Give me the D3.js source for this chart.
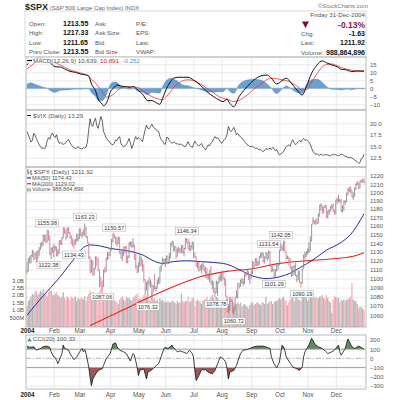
<!DOCTYPE html>
<html><head><meta charset="utf-8">
<script src="https://cdn.jsdelivr.net/npm/d3@7"></script>
<style>body{margin:0;background:#fff}svg{display:block}text{font-family:"Liberation Sans",Arial,Helvetica,sans-serif}</style>
</head><body><svg id="c" width="393" height="400"></svg>
<script>
// ---------------- DATA ----------------
const monthLabels=["2004","Feb","Mar","Apr","May","Jun","Jul","Aug","Sep","Oct","Nov","Dec"];
const monthStart=[0,20,39,62,83,103,124,145,167,188,209,230];
const prevClose2003=1112;
const spxClose=[
1108,1122,1124,1126,1132,1122,1127,1121,1131,1132,1140,1139,1148,1144,1142,1155,1144,1128,1134,1131,
1135,1136,1127,1129,1143,1140,1146,1158,1152,1146,1157,1152,1147,1144,1141,1139,1144,1145,1145,
1156,1149,1151,1155,1157,1147,1141,1124,1107,1121,1104,1111,1124,1122,1110,1095,1094,1091,1109,1108,1122,1127,1126,
1132,1142,1151,1148,1141,1139,1145,1129,1128,1129,1135,1136,1118,1124,1140,1141,1136,1138,1122,1114,1107,
1117,1120,1122,1114,1099,1087,1095,1097,1096,1096,1084,1091,1089,1089,1094,1095,1113,1115,1121,1121,
1121,1125,1117,1123,1140,1142,1131,1136,1125,1132,1134,1132,1135,1130,1134,1144,1141,1134,1133,1136,1141,
1129,1125,1116,1118,1109,1113,1114,1115,1111,1107,1101,1101,1109,1094,1097,1086,1084,1095,1095,1100,1102,
1107,1100,1099,1081,1064,1065,1079,1076,1063,1065,1079,1082,1095,1091,1098,1096,1096,1105,1105,1108,1099,1104,
1106,1118,1114,1121,1116,1118,1124,1126,1128,1120,1124,1129,1122,1129,1114,1108,1110,1104,1110,1115,1115,
1132,1135,1134,1142,1131,1122,1124,1122,1114,1103,1108,1114,1103,1104,1106,1096,1095,1111,1125,1127,1130,
1131,1131,1143,1162,1166,1165,1164,1163,1173,1184,1184,1175,1182,1184,1170,1177,1177,1182,1183,1179,1174,
1191,1190,1191,1190,1177,1183,1189,1188,1199,1203,1206,1203,1194,1195,1205,1210,1210,1205,1214,1213,1214,1211.92];
const spxHigh=[
1118,1123,1125,1127,1132,1131,1129,1131,1131,1136,1140,1142,1150,1150,1150,1155,1155,1149,1135,1136,
1139,1137,1136,1133,1143,1144,1147,1158,1158,1156,1158,1159,1153,1149,1146,1144,1145,1151,1151,
1157,1157,1153,1155,1163,1159,1148,1141,1125,1121,1120,1112,1125,1125,1123,1110,1102,1098,1110,1113,1124,1130,1130,
1135,1145,1151,1151,1148,1147,1148,1147,1133,1131,1136,1136,1137,1126,1141,1142,1142,1146,1138,1128,1115,
1118,1127,1125,1121,1116,1099,1096,1098,1102,1099,1095,1093,1105,1092,1099,1102,1113,1115,1124,1122,
1123,1126,1125,1129,1140,1142,1142,1137,1136,1134,1136,1134,1138,1138,1135,1146,1146,1145,1142,1138,1142,
1141,1129,1125,1120,1119,1115,1116,1120,1115,1113,1112,1106,1109,1114,1098,1097,1090,1098,1097,1103,1106,
1108,1107,1102,1099,1081,1070,1080,1079,1076,1069,1080,1087,1095,1095,1099,1101,1100,1105,1107,1110,1108,1104,
1109,1120,1118,1123,1123,1120,1125,1129,1130,1129,1125,1130,1129,1132,1131,1114,1114,1110,1111,1115,1116,
1132,1140,1138,1142,1143,1131,1126,1124,1123,1114,1114,1115,1118,1104,1109,1109,1096,1111,1127,1130,1131,
1134,1141,1148,1162,1170,1167,1168,1169,1175,1185,1187,1184,1183,1185,1184,1178,1180,1183,1186,1187,1179,
1191,1194,1197,1192,1192,1184,1190,1191,1199,1205,1206,1207,1203,1200,1206,1211,1214,1212,1214,1215,1217,1217];
const spxLow=[
1105,1108,1117,1117,1124,1121,1122,1118,1121,1125,1132,1135,1137,1142,1140,1141,1143,1126,1122,1129,
1124,1131,1125,1125,1128,1138,1138,1146,1151,1143,1146,1151,1145,1139,1136,1134,1138,1141,1142,
1145,1148,1146,1149,1148,1146,1140,1122,1106,1107,1103,1104,1111,1114,1108,1090,1091,1087,1091,1106,1108,1121,1122,
1126,1132,1141,1145,1139,1136,1139,1128,1122,1120,1125,1129,1118,1117,1123,1136,1134,1135,1121,1111,1106,
1107,1113,1114,1108,1096,1083,1087,1080,1092,1090,1076,1085,1088,1086,1089,1094,1095,1108,1115,1118,
1113,1119,1116,1117,1123,1136,1131,1131,1122,1125,1129,1128,1129,1128,1125,1133,1140,1133,1131,1131,1133,
1123,1123,1113,1111,1108,1109,1106,1110,1107,1101,1100,1099,1096,1094,1088,1084,1079,1084,1081,1095,1097,
1097,1099,1092,1080,1063,1063,1065,1074,1063,1061,1065,1079,1078,1089,1091,1094,1092,1094,1102,1104,1099,1094,
1100,1105,1112,1114,1114,1114,1115,1123,1123,1118,1117,1122,1120,1122,1113,1107,1108,1101,1102,1108,1110,
1115,1131,1131,1131,1130,1121,1122,1115,1111,1102,1103,1104,1103,1096,1098,1095,1090,1094,1111,1121,1124,
1127,1129,1131,1142,1162,1162,1161,1162,1163,1171,1178,1175,1175,1181,1170,1169,1173,1177,1180,1176,1173,
1174,1186,1188,1187,1177,1176,1178,1185,1188,1196,1200,1199,1194,1191,1195,1203,1209,1204,1205,1212,1212,1211];
const volumeB=[
1.2,1.6,1.7,1.9,2.1,2.0,2.2,2.3,2.0,2.1,2.3,2.2,2.4,2.0,2.1,1.9,2.2,2.4,2.3,2.0,
2.0,2.1,2.2,2.0,1.9,1.8,1.9,2.2,1.8,1.7,1.9,1.8,1.7,1.9,1.8,1.8,1.9,1.6,1.8,
1.7,1.8,1.8,1.7,1.9,1.6,1.9,2.1,2.3,1.9,2.2,2.0,1.8,1.9,2.1,2.2,2.4,2.6,2.0,1.7,1.6,1.8,1.9,
1.8,1.7,1.6,1.7,1.6,1.5,1.4,1.7,1.8,1.9,1.7,1.6,1.9,1.8,1.8,1.7,1.6,1.8,1.9,2.0,2.1,
1.7,1.8,1.7,1.8,2.0,2.1,1.9,1.8,1.7,1.6,2.2,1.7,1.8,1.6,1.7,1.5,1.8,1.6,1.7,1.5,
1.6,1.5,1.6,1.5,1.5,1.6,1.6,1.5,1.4,1.6,1.5,1.5,2.1,1.6,1.5,1.6,1.6,1.9,1.5,1.6,1.8,
1.8,1.2,1.6,1.7,1.6,1.5,1.4,1.6,1.7,1.7,1.9,1.6,1.7,1.9,2.0,1.8,1.7,1.9,1.8,1.6,1.5,
1.6,1.5,1.6,1.7,1.8,1.4,1.6,1.7,1.9,1.5,1.3,1.4,1.5,1.4,1.5,1.2,1.3,1.4,1.3,1.2,1.1,1.3,
1.5,1.5,1.3,1.4,1.5,1.5,1.4,1.3,1.5,1.5,1.4,1.9,1.4,1.5,1.6,1.6,1.4,1.5,1.6,1.6,1.7,
1.8,1.7,1.8,1.9,1.7,1.6,1.3,1.5,1.7,1.8,1.9,1.6,1.8,1.9,1.7,1.7,1.6,1.9,2.0,1.9,1.8,
1.6,1.7,2.2,2.1,2.0,1.8,1.9,1.8,1.8,1.9,1.9,2.0,1.8,1.7,2.0,1.8,1.6,1.5,0.8,1.7,1.9,
1.9,1.8,1.8,1.5,1.7,1.6,1.7,1.6,1.7,1.7,1.8,1.9,2.8,1.7,1.6,1.6,1.4,1.1,1.2,1.2,1.1,0.99];
const vixClose=[
18.2,17.5,16.7,15.9,16.3,17.8,17.4,16.7,16.0,15.4,14.9,14.5,14.7,14.4,14.8,16.2,16.9,16.5,17.4,17.9,
17.2,16.9,17.5,16.3,15.6,15.8,15.6,15.4,15.5,15.9,16.2,16.5,15.8,15.3,14.9,14.7,14.5,14.6,14.9,14.6,
14.5,14.4,14.7,14.6,14.8,15.9,18.7,21.0,19.6,19.3,20.5,21.1,19.5,18.9,20.2,21.5,20.6,18.2,17.6,16.7,
16.5,16.0,15.8,15.4,15.3,15.7,16.4,16.2,16.8,17.1,15.6,15.1,14.9,15.1,15.4,15.9,16.7,15.8,14.5,15.2,
16.3,17.1,16.5,16.9,16.7,16.4,16.0,17.3,18.6,19.6,18.9,18.8,19.3,19.8,19.2,18.9,18.7,18.3,18.2,17.1,
16.4,16.1,15.6,15.4,16.9,16.9,16.2,15.9,15.6,15.9,15.8,15.5,15.6,15.3,15.5,15.4,15.2,15.0,14.9,15.4,
16.0,15.3,15.0,14.7,15.4,16.1,15.6,15.3,15.1,15.3,15.6,14.9,14.6,14.2,14.8,15.3,15.1,15.7,16.0,16.6,
17.1,16.7,16.9,16.4,16.0,15.6,16.1,16.5,16.7,17.6,19.3,18.5,18.2,18.6,19.1,18.4,17.5,17.8,17.3,17.1,
16.8,16.4,16.0,15.7,15.3,15.2,14.9,15.0,14.9,14.8,14.5,14.6,14.4,14.2,14.3,14.0,13.8,14.1,14.5,14.3,
14.4,14.6,14.3,14.7,14.5,14.0,14.3,13.6,13.1,13.3,13.5,13.8,14.4,14.9,15.1,15.3,15.0,15.9,16.4,15.8,
15.3,15.6,16.0,16.3,15.9,16.4,16.7,16.3,16.4,16.2,15.9,15.4,14.6,13.8,13.6,13.2,13.4,13.1,13.0,13.3,
13.1,13.0,13.2,13.1,13.1,13.0,12.9,13.1,13.3,13.1,13.2,13.0,12.9,13.1,13.3,13.2,13.0,12.8,12.7,12.6,
12.5,12.6,12.4,12.2,12.0,11.8,11.6,11.3,11.4,12.3,12.5,13.29];
const macdIdx=[0,3,6,9,12,15,17,21,25,28,32,36,40,43,46,48,51,53,56,57,60,62,65,67,70,73,77,79,83,86,90,93,97,99,101,104,107,109,113,116,120,124,129,134,139,143,146,149,151,154,158,164,169,174,179,182,186,190,193,197,201,205,208,212,216,220,223,227,231,234,238,242,246,251];
const macdLine=[14.6,17.5,18.5,18.8,18.5,18.0,16.3,13.5,13.3,12.1,10.6,10.0,8.9,8.5,7.5,2.7,-1.5,-6.7,-9.8,-10.9,-7.7,-2.5,0.6,2.1,1.4,1.0,0.6,1.0,-1.5,-3.6,-7.7,-7.7,-9.4,-10.0,-6.3,0.0,4.2,6.3,6.9,6.9,6.9,5.2,2.1,-2.1,-5.2,-7.3,-8.3,-6.9,-9.4,-11.5,-5.2,1.0,5.2,7.7,8.3,6.3,2.7,4.8,6.3,3.1,-1.0,-4.2,1.0,9.4,14.6,17.1,16.0,14.6,13.5,11.9,11.5,10.4,10.8,10.639];
const macdSignal=[12.1,14.0,16.0,17.2,17.8,18.0,17.5,16.0,14.5,13.2,11.5,10.5,9.5,8.8,7.8,5.5,3.5,1.0,-2.0,-3.8,-5.6,-5.0,-3.3,-1.5,0.2,0.9,1.2,1.0,0.4,-1.2,-3.6,-5.2,-6.5,-7.0,-7.2,-5.0,-2.0,0.5,3.0,4.8,5.3,4.8,2.8,0.0,-2.8,-5.2,-6.2,-6.8,-7.5,-8.3,-7.5,-4.2,-0.5,2.5,5.6,6.2,6.0,5.3,4.8,3.5,1.5,-1.0,-1.0,4.0,9.0,13.5,14.8,15.2,14.2,13.0,12.0,11.3,11.0,10.891];
const ma50Idx=[0,12,23,34,42,47,54,62,72,79,87,94,101,109,119,129,139,149,158,168,178,188,196,203,213,223,233,241,251];
const ma50=[1060,1081,1099,1120,1135,1138,1137,1134,1132,1130,1126,1120,1117,1119,1120,1119,1118,1116,1110,1103,1100,1102,1106,1112,1121,1132,1140,1150,1174.43];
const ma200Idx=[47,60,75,89,109,129,149,168,188,208,226,243,251];
const ma200=[1049,1058,1068,1078,1091,1102,1108,1111,1117,1120,1122,1125,1129.02];
const cciIdx=[0,2,5,7,10,12,15,17,18,20,21,22,23,25,26,27,28,31,32,35,37,40,41,42,43,44,46,47,48,49,52,54,56,57,59,62,64,66,67,69,72,74,76,77,78,79,80,82,83,84,87,89,90,93,95,98,99,102,103,105,108,109,112,114,116,119,121,123,124,125,126,128,130,133,135,138,140,143,144,146,148,149,150,151,154,156,159,161,164,169,172,176,179,181,182,184,186,188,190,191,192,193,196,198,201,203,205,206,207,210,212,215,217,220,222,224,227,229,232,233,234,237,239,242,244,247,249,251];
const cciVal=[133,119,126,89,107,126,133,119,70,15,7,-22,-59,15,52,144,107,89,52,-15,15,89,107,70,96,52,-96,-207,-300,-226,-152,-126,-115,-78,-4,52,156,170,126,89,70,52,-4,-30,15,52,33,-96,-189,-133,-115,-226,-152,-126,-96,-59,-22,107,119,107,144,119,70,81,70,52,89,52,15,-133,-244,-189,-126,-126,-152,-170,-133,-22,15,-4,-41,-115,-226,-152,-133,-78,52,89,96,126,133,133,119,107,15,-59,-104,-41,144,126,89,15,-52,-96,-115,-133,-96,15,70,144,218,144,126,107,81,52,70,89,144,70,33,107,211,126,107,133,119,100.33];
const annIdx=[15,16,35,43,56,65,90,119,141,154,180,184,189,205];
const annVal=[1155.38,1122.38,1134.43,1163.23,1087.06,1150.57,1076.32,1146.34,1078.78,1060.72,1131.54,1101.29,1142.05,1090.19];
const annIsHigh=[1,0,0,1,0,1,0,1,0,0,1,0,1,0];
const macdTicks=[-10,-5,0,5,10,15];
const vixTicks=[12.5,15,17.5,20];
const priceTicks=[1060,1070,1080,1090,1100,1110,1120,1130,1140,1150,1160,1170,1180,1190,1200,1210,1220];
const volTicks=[0.5,1.0,1.5,2.0,2.5,3.0];
const volTickLabels=["500M","1.0B","1.5B","2.0B","2.5B","3.0B"];
const cciTicks=[-300,-200,-100,0,100,200];

// ---------------- DRAW ----------------
const svg=d3.select("#c");
const L=26,R=366;
const P={macd:[57,110],vix:[110,167],px:[167,327],cci:[335,389]};
const x=d3.scaleLinear().domain([0,251]).range([27,364]);
const yM=d3.scaleLinear().domain([-10,15]).range([104.3,64.3]);
const yV=d3.scaleLinear().domain([12.5,20]).range([157.7,123.3]);
const yP=d3.scaleLog().domain([1060,1220]).range([315.3,176]);
const yVol=d3.scaleLinear().domain([0,3]).range([324.7,280.3]);
const yC=d3.scaleLinear().domain([-300,200]).range([385.7,340]);
const defs=svg.append("defs");
function clip(id,t,b){defs.append("clipPath").attr("id",id).append("rect").attr("x",L).attr("y",t).attr("width",R-L).attr("height",b-t);}
Object.keys(P).forEach(k=>clip("cl_"+k,P[k][0],P[k][1]));
clip("cl_cciUp",P.cci[0],yC(100));
clip("cl_cciDn",yC(-100),P.cci[1]);

function grid(key,y,ticks){
  const [t,b]=P[key];
  const g=svg.append("g").attr("class","grid");
  g.append("g").attr("transform",`translate(0,${b})`)
   .call(d3.axisBottom(x).tickValues(monthStart.slice(1)).tickSize(-(b-t)).tickFormat(""));
  g.append("g").attr("transform",`translate(${L},0)`)
   .call(d3.axisLeft(y).tickValues(ticks).tickSize(-(R-L)).tickFormat(""));
  g.selectAll(".domain").remove();
  g.selectAll("line").attr("stroke","#e4e4e4").attr("stroke-width",0.8);
}
function rightAxis(y,ticks,fmt){
  const g=svg.append("g").attr("transform",`translate(${R},0)`)
   .call(d3.axisRight(y).tickValues(ticks).tickSize(0).tickPadding(4).tickFormat(fmt));
  g.select(".domain").remove();
  g.selectAll("text").attr("font-size",6).attr("fill","#555").attr("font-family",'"Liberation Sans",Arial,sans-serif');
}
function frame(key){const [t,b]=P[key];svg.append("rect").attr("x",L).attr("y",t).attr("width",R-L).attr("height",b-t).attr("fill","none").attr("stroke","#a8a8a8").attr("stroke-width",0.8);}

// ---- Header ----
const hdr=svg.append("g");
hdr.append("text").attr("x",25).attr("y",9.5).attr("font-size",9).attr("font-weight","bold").attr("fill","#222").text("$SPX")
  .append("tspan").attr("font-size",6).attr("font-weight","normal").attr("fill","#666").text(" (S&P 500 Large Cap Index) INDX");
hdr.append("text").attr("x",368).attr("y",8).attr("text-anchor","end").attr("font-size",6).attr("fill","#777").text("©StockCharts.com");
hdr.append("rect").attr("x",L-1).attr("y",11).attr("width",R-L+1).attr("height",46).attr("fill","none").attr("stroke","#cfcfcf").attr("stroke-width",0.8);
const rowsY=[26,35.3,44.5,54];
const col1=["Open:","High:","Low:","Prev Close:"], val1=["1213.55","1217.33","1211.65","1213.55"];
const col2=["Ask:","Ask Size:","Bid:","Bid Size:"], col3=["P/E:","EPS:","Last:","VWAP:"];
rowsY.forEach((yy,i)=>{
  hdr.append("text").attr("x",29).attr("y",yy).attr("font-size",6.2).attr("fill","#555").text(col1[i]);
  hdr.append("text").attr("x",63).attr("y",yy).attr("font-size",7).attr("font-weight","bold").attr("fill","#111").text(val1[i]);
  hdr.append("text").attr("x",95).attr("y",yy).attr("font-size",6.2).attr("fill","#555").text(col2[i]);
  hdr.append("text").attr("x",136).attr("y",yy).attr("font-size",6.2).attr("fill","#555").text(col3[i]);
});
hdr.append("text").attr("x",365).attr("y",17).attr("text-anchor","end").attr("font-size",6.2).attr("fill","#555").text("Friday  31-Dec-2004");
hdr.append("path").attr("d","M302,21.5 L309,21.5 L305.5,28 Z").attr("fill","#7a1030");
hdr.append("text").attr("x",365).attr("y",27.5).attr("text-anchor","end").attr("font-size",8.5).attr("font-weight","bold").attr("fill","#8b1a40").text("-0.13%");
const rl=["Chg:","Last:","Volume:"], rv=["-1.63","1211.92","988,864,896"], ry=[36,45,54.5];
rl.forEach((t,i)=>{
  hdr.append("text").attr("x",301).attr("y",ry[i]).attr("font-size",6.2).attr("fill","#555").text(t);
  hdr.append("text").attr("x",365).attr("y",ry[i]).attr("text-anchor","end").attr("font-size",7).attr("font-weight","bold").attr("fill","#111").text(rv[i]);
});

// ---- MACD panel ----
grid("macd",yM,macdTicks);
const macdPts=macdIdx.map((d,i)=>[d,macdLine[i],macdSignal[i]]);
const gM=svg.append("g").attr("clip-path","url(#cl_macd)");
gM.append("path").datum(macdPts).attr("fill","#6aa0d2").attr("stroke","#4a84bb").attr("stroke-width",0.4)
  .attr("d",d3.area().x(d=>x(d[0])).y0(yM(0)).y1(d=>yM(d[1]-d[2])).curve(d3.curveMonotoneX));
gM.append("line").attr("x1",L).attr("x2",R).attr("y1",yM(0)).attr("y2",yM(0)).attr("stroke","#8fb4d8").attr("stroke-width",0.6);
gM.append("path").datum(macdPts).attr("fill","none").attr("stroke","#e33").attr("stroke-width",0.8)
  .attr("d",d3.line().x(d=>x(d[0])).y(d=>yM(d[2])).curve(d3.curveMonotoneX));
gM.append("path").datum(macdPts).attr("fill","none").attr("stroke","#111").attr("stroke-width",1)
  .attr("d",d3.line().x(d=>x(d[0])).y(d=>yM(d[1])).curve(d3.curveMonotoneX));
rightAxis(yM,macdTicks,d3.format("d"));
frame("macd");
svg.append("rect").attr("x",27).attr("y",57.6).attr("width",126).attr("height",5.6).attr("fill","#fff").attr("opacity",0.85);
svg.append("line").attr("x1",27).attr("x2",32).attr("y1",60.5).attr("y2",60.5).attr("stroke","#111").attr("stroke-width",1.2);
const mt=svg.append("text").attr("x",33).attr("y",62.5).attr("font-size",6.2).attr("fill","#555");
mt.append("tspan").text("MACD(12,26,9) 10.639, ");
mt.append("tspan").attr("fill","#d22").text("10.891, ");
mt.append("tspan").attr("fill","#4a9ad0").text("-0.252");

// ---- VIX panel ----
grid("vix",yV,vixTicks);
svg.append("g").attr("clip-path","url(#cl_vix)").append("path").datum(vixClose).attr("fill","none").attr("stroke","#222").attr("stroke-width",0.7)
  .attr("d",d3.line().x((d,i)=>x(i)).y(d=>yV(d)));
rightAxis(yV,vixTicks,d3.format(".1f"));
frame("vix");
svg.append("line").attr("x1",27).attr("x2",31).attr("y1",115.5).attr("y2",115.5).attr("stroke","#222").attr("stroke-width",1);
svg.append("text").attr("x",33).attr("y",117.5).attr("font-size",6.2).attr("fill","#555").text("$VIX (Daily) 13.29");

// ---- Price panel ----
grid("px",yP,priceTicks);
const gP=svg.append("g").attr("clip-path","url(#cl_px)");
const bw=(x(1)-x(0));
gP.selectAll("rect.vol").data(volumeB).enter().append("rect")
  .attr("x",(d,i)=>x(i)-bw/2).attr("width",bw).attr("y",d=>yVol(d)).attr("height",d=>yVol(0)-yVol(d)+3)
  .attr("fill",(d,i)=>spxClose[i]<(i?spxClose[i-1]:prevClose2003)?"#f5b0bc":"#b8b8b8");
gP.append("path").datum(ma200Idx.map((d,i)=>[d,ma200[i]])).attr("fill","none").attr("stroke","#e22").attr("stroke-width",1.1)
  .attr("d",d3.line().x(d=>x(d[0])).y(d=>yP(d[1])).curve(d3.curveMonotoneX));
gP.append("path").datum(ma50Idx.map((d,i)=>[d,ma50[i]])).attr("fill","none").attr("stroke","#2b2b9c").attr("stroke-width",1)
  .attr("d",d3.line().x(d=>x(d[0])).y(d=>yP(d[1])).curve(d3.curveMonotoneX));
const bars=gP.selectAll("g.bar").data(spxClose).enter().append("g")
  .attr("stroke",(d,i)=>d<(i?spxClose[i-1]:prevClose2003)?"#d67590":"#858585").attr("stroke-width",0.85);
bars.append("line").attr("x1",(d,i)=>x(i)).attr("x2",(d,i)=>x(i)).attr("y1",(d,i)=>yP(spxHigh[i])).attr("y2",(d,i)=>yP(spxLow[i]));
bars.append("line").attr("x1",(d,i)=>x(i)).attr("x2",(d,i)=>x(i)+1).attr("y1",d=>yP(d)).attr("y2",d=>yP(d));
// annotations
const ann=gP.selectAll("g.ann").data(annVal).enter().append("g")
  .attr("transform",(d,i)=>`translate(${x(annIdx[i])},${yP(d)+(annIsHigh[i]?-6.5:6.5)})`);
ann.append("rect").attr("x",-11.5).attr("y",-3.6).attr("width",23).attr("height",7.2).attr("fill","#fff").attr("stroke","#aaa").attr("stroke-width",0.5);
ann.append("text").attr("text-anchor","middle").attr("y",2).attr("font-size",5.6).attr("fill","#333").text(d=>d3.format(".2f")(d));
rightAxis(yP,priceTicks,d3.format("d"));
const va=svg.append("g").attr("transform",`translate(${L},0)`)
  .call(d3.axisLeft(yVol).tickValues(volTicks).tickSize(0).tickPadding(2).tickFormat((d,i)=>volTickLabels[i]));
va.select(".domain").remove();
va.selectAll("text").attr("font-size",5.8).attr("fill","#555");
frame("px");
// legend
const lg=svg.append("g");
lg.append("path").attr("d","M28,169.5 V174.5 M27,171 H28 M28,173 H29.5 M31,170 V175 M30,171.5 H31 M31,174 H32.5").attr("stroke","#444").attr("stroke-width",0.7).attr("fill","none");
lg.append("text").attr("x",34).attr("y",174).attr("font-size",6.2).attr("fill","#555").text("$SPX (Daily) 1211.92");
lg.append("line").attr("x1",27).attr("x2",31).attr("y1",178).attr("y2",178).attr("stroke","#2b2b9c").attr("stroke-width",1.2);
lg.append("text").attr("x",32).attr("y",180).attr("font-size",5.6).attr("fill","#555").text("MA(50) 1174.43");
lg.append("line").attr("x1",27).attr("x2",31).attr("y1",183.7).attr("y2",183.7).attr("stroke","#e22").attr("stroke-width",1.2);
lg.append("text").attr("x",32).attr("y",185.7).attr("font-size",5.6).attr("fill","#555").text("MA(200) 1129.02");
lg.append("path").attr("d","M27.5,191.5 V188.5 M29,191.5 V187.5 M30.5,191.5 V189").attr("stroke","#888").attr("stroke-width",0.9);
lg.append("text").attr("x",32).attr("y",191.3).attr("font-size",5.6).attr("fill","#555").text("Volume 988,864,896");

// x axis labels
function xAxis(yy){
  const g=svg.append("g").attr("transform",`translate(0,${yy})`)
   .call(d3.axisBottom(x).tickValues(monthStart).tickSize(0).tickPadding(1).tickFormat((d,i)=>monthLabels[i]));
  g.select(".domain").remove();
  g.selectAll("text").attr("font-size",6.3).attr("font-weight",(d,i)=>i?"normal":"bold").attr("fill",(d,i)=>i?"#555":"#222");
}
xAxis(327.5);

// ---- CCI panel ----
grid("cci",yC,cciTicks);
const cciPts=cciIdx.map((d,i)=>[d,cciVal[i]]);
svg.append("path").datum(cciPts).attr("clip-path","url(#cl_cciUp)").attr("fill","#5e8c5e")
  .attr("d",d3.area().x(d=>x(d[0])).y0(yC(100)).y1(d=>yC(d[1])));
svg.append("path").datum(cciPts).attr("clip-path","url(#cl_cciDn)").attr("fill","#9a5858")
  .attr("d",d3.area().x(d=>x(d[0])).y0(yC(-100)).y1(d=>yC(d[1])));
[100,-100].forEach(v=>svg.append("line").attr("x1",L).attr("x2",R).attr("y1",yC(v)).attr("y2",yC(v)).attr("stroke","#999").attr("stroke-width",0.8));
svg.append("line").attr("x1",L).attr("x2",R).attr("y1",yC(0)).attr("y2",yC(0)).attr("stroke","#aaa").attr("stroke-width",0.8).attr("stroke-dasharray","5,2,1,2");
svg.append("g").attr("clip-path","url(#cl_cci)").append("path").datum(cciPts).attr("fill","none").attr("stroke","#111").attr("stroke-width",0.8)
  .attr("d",d3.line().x(d=>x(d[0])).y(d=>yC(d[1])));
rightAxis(yC,cciTicks,d3.format("d"));
frame("cci");
svg.append("path").attr("d","M27.5,341.5 L29.5,337.5 L31.5,341.5 Z").attr("fill","#5e8c5e");
svg.append("text").attr("x",33).attr("y",341).attr("font-size",6.2).attr("fill","#555").text("CCI(20) 100.33");
xAxis(391.5);
</script></body></html>
